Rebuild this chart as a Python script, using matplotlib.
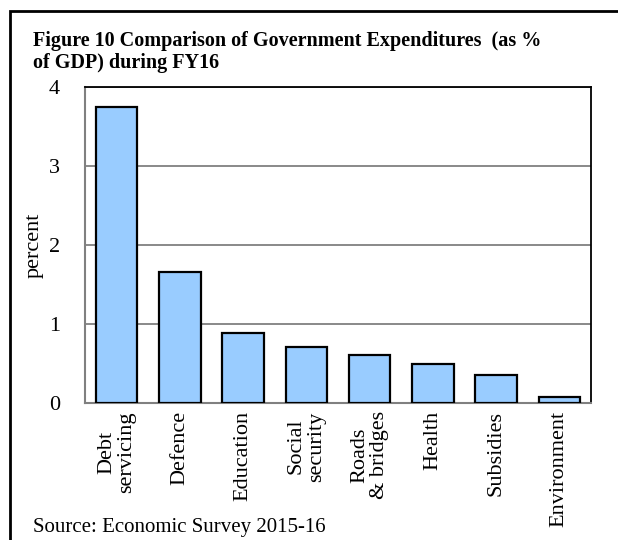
import matplotlib
matplotlib.use("Agg")
import matplotlib.pyplot as plt
from matplotlib.patches import Rectangle

# ---------------------------------------------------------------------------
# Data
# ---------------------------------------------------------------------------
CATEGORIES = ["Debt\nservicing", "Defence", "Education", "Social\nsecurity",
              "Roads\n& bridges", "Health", "Subsidies", "Environment"]
VALUES = [3.75, 1.66, 0.88, 0.71, 0.61, 0.50, 0.35, 0.07]
Y_TICKS = [0, 1, 2, 3, 4]

TITLE = "Figure 10 Comparison of Government Expenditures  (as %\nof GDP) during FY16"
SOURCE = "Source: Economic Survey 2015-16"

BAR_COLOR = "#99CCFF"
GRID_GRAY = "#808080"

plt.rcParams["font.family"] = ["Liberation Serif", "DejaVu Serif"]

fig = plt.figure(figsize=(6.18, 5.40), dpi=100)
ax = fig.add_axes([85 / 618, 1 - 403 / 540, (591 - 85) / 618, (403 - 87) / 540])

x = range(len(VALUES))
ax.bar(x, VALUES, width=0.66, color=BAR_COLOR, edgecolor="black",
       linewidth=1.6, zorder=3)

ax.set_xlim(-0.5, len(VALUES) - 0.5)
ax.set_ylim(0, 4)
ax.set_yticks(Y_TICKS)
ax.set_yticklabels([str(t) for t in Y_TICKS], fontsize=16)
ax.yaxis.grid(True, color=GRID_GRAY, linewidth=1.3, zorder=0)
ax.set_axisbelow(True)
ax.tick_params(axis="y", length=0, pad=18)
ax.tick_params(axis="x", length=0, pad=6)
ax.set_xticks(list(x))
ax.set_xticklabels(CATEGORIES, rotation=90, fontsize=16, va="top",
                   ha="center", multialignment="center", linespacing=1.1)

for side in ("left", "bottom"):
    ax.spines[side].set_color(GRID_GRAY)
    ax.spines[side].set_linewidth(1.5)
for side in ("top", "right"):
    ax.spines[side].set_color("black")
    ax.spines[side].set_linewidth(1.3)

ax.set_ylabel("percent", fontsize=16, labelpad=4)

fig.text(33 / 618, 1 - 31 / 540, TITLE, fontsize=14.5, fontweight="bold",
         va="top", ha="left", linespacing=1.15)
fig.text(33 / 618, 1 - 532 / 540, SOURCE, fontsize=15, va="baseline", ha="left")

# outer frame (only the top and left edges fall inside the picture)
fig.patches.append(Rectangle((10 / 618, -0.2), 1.2, 0.2 + (540 - 11) / 540,
                             transform=fig.transFigure, fill=False,
                             edgecolor="black", linewidth=2.0, clip_on=False))

fig.savefig("out.png", dpi=100)
